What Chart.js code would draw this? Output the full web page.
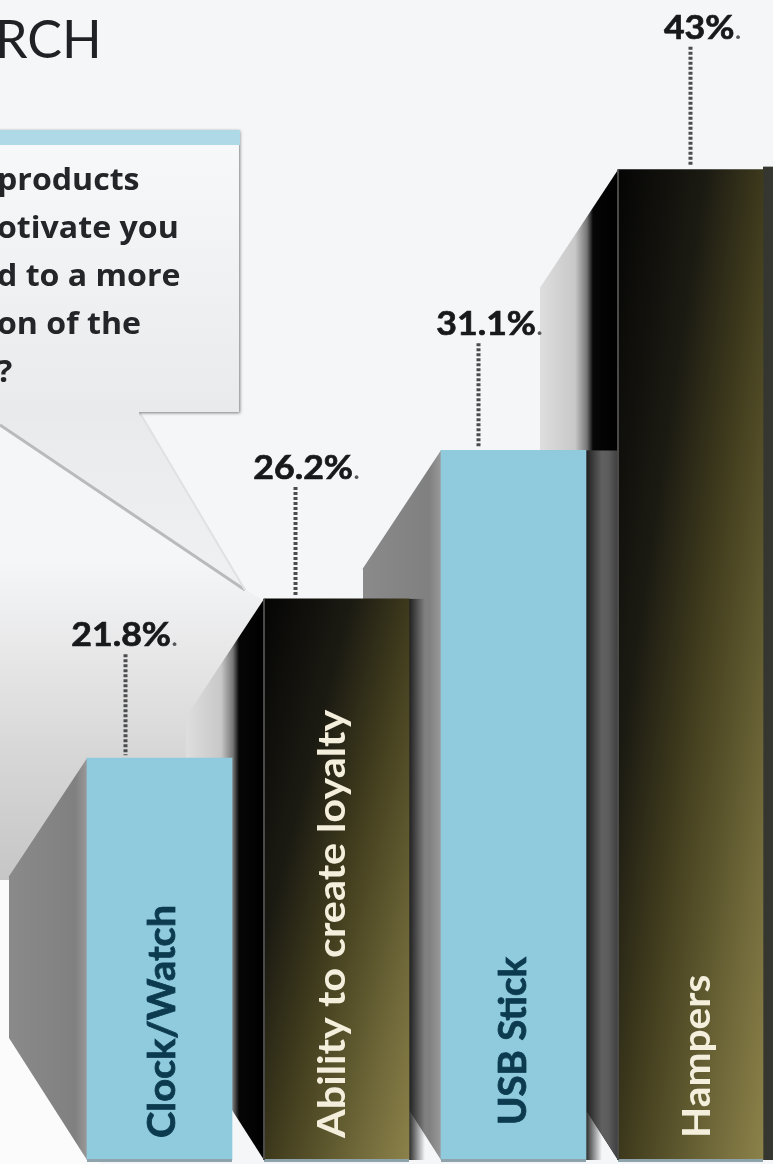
<!DOCTYPE html>
<html>
<head>
<meta charset="utf-8">
<title>Research</title>
<script src="https://cdn.jsdelivr.net/npm/chart.js@4"></script>
<style>
  html, body { margin: 0; padding: 0; width: 773px; height: 1164px; overflow: hidden; background: #f5f6f8; }
  canvas { display: block; }
</style>
</head>
<body>
<canvas id="chart" width="800" height="1164"></canvas>
<script>
const categories = ["Clock/Watch", "Ability to create loyalty", "USB Stick", "Hampers"];
const percents = [21.8, 26.2, 31.1, 43];

const titleText = "RCH";
const questionLines = ["products", "otivate you", "d to a more", "on of the", "?"];

const FONT = "Lato, 'Open Sans', sans-serif";
const BG = "#f5f6f8";
const BLUE = "#90cbdd";

// per-bar tweaks for the leader lines and text around the bars
const leaderShift = [-34, -41, -35, 0];
const labelShift = [0, 12, 12, 13];
const labelRise = [125, 133, 128, 144];
const nameBottom = [1138, 1138, 1125, 1138];
const nameShift = [3, -4, 0, 7];
const nameStretch = [1.045, 1.09, 1.01, 1.07];

const FACE_W = 78;
const FACE_TOP = 118;
const FACE_BOTTOM = 122;

function isDark(i) {
  return i % 2 === 1;
}

// dark bars run black to olive along the box diagonal
function darkGradient(ctx, x0, y0, x1, y1) {
  const w = x1 - x0, h = y1 - y0;
  const len = Math.hypot(w, h);
  const d = (2 * w * h) / len;
  const g = ctx.createLinearGradient(x0, y0, x0 + (h / len) * d, y0 + (w / len) * d);
  g.addColorStop(0, "#050505");
  g.addColorStop(0.3, "#1b1a12");
  g.addColorStop(0.55, "#45401f");
  g.addColorStop(0.8, "#6d6638");
  g.addColorStop(1, "#8b8149");
  return g;
}

const backdrop = {
  id: "backdrop",
  beforeDraw(chart) {
    const ctx = chart.ctx;
    ctx.save();
    ctx.fillStyle = BG;
    ctx.fillRect(0, 0, chart.width, chart.height);

    // pale lower left corner
    ctx.fillStyle = "#fbfbfb";
    ctx.fillRect(0, 880, 100, 284);

    // grey wash that runs down behind the first bar
    const wash = ctx.createLinearGradient(0, 560, 0, 880);
    wash.addColorStop(0, BG);
    wash.addColorStop(0.28, "#e8e8e9");
    wash.addColorStop(0.6, "#d7d7d8");
    wash.addColorStop(1, "#c6c6c7");
    ctx.fillStyle = wash;
    ctx.beginPath();
    ctx.moveTo(0, 560);
    ctx.lineTo(200, 560);
    ctx.lineTo(262, 600);
    ctx.lineTo(262, 880);
    ctx.lineTo(0, 880);
    ctx.closePath();
    ctx.fill();

    // callout tail
    const tail = ctx.createLinearGradient(0, 413, 0, 590);
    tail.addColorStop(0, "#e9eaec");
    tail.addColorStop(1, "#f0f1f3");
    ctx.fillStyle = tail;
    ctx.beginPath();
    ctx.moveTo(0, 413);
    ctx.lineTo(140, 413);
    ctx.lineTo(245, 590);
    ctx.lineTo(0, 425);
    ctx.closePath();
    ctx.fill();
    ctx.strokeStyle = "#b9babc";
    ctx.lineWidth = 3;
    ctx.beginPath();
    ctx.moveTo(0, 425);
    ctx.lineTo(245, 590);
    ctx.stroke();
    ctx.strokeStyle = "#e0e1e3";
    ctx.lineWidth = 2;
    ctx.beginPath();
    ctx.moveTo(140, 413);
    ctx.lineTo(245, 590);
    ctx.stroke();

    // callout box, with a soft shadow on its right and lower edges
    const box = ctx.createLinearGradient(0, 130, 0, 413);
    box.addColorStop(0, "#f8f9fb");
    box.addColorStop(1, "#e9eaec");
    ctx.save();
    ctx.shadowColor = "rgba(0,0,0,0.5)";
    ctx.shadowBlur = 3;
    ctx.shadowOffsetX = 1;
    ctx.shadowOffsetY = 1;
    ctx.fillStyle = box;
    ctx.fillRect(-10, 130, 249, 282);
    ctx.restore();
    ctx.fillStyle = "#e9eaec";
    ctx.fillRect(0, 408, 139, 8);
    ctx.fillStyle = "#b0d9e8";
    ctx.fillRect(0, 130, 240, 15);

    ctx.fillStyle = "#1f2124";
    ctx.font = "400 52px " + FONT;
    ctx.textAlign = "left";
    ctx.textBaseline = "alphabetic";
    ctx.fillText(titleText, -5, 58);

    ctx.fillStyle = "#232528";
    ctx.font = "700 30px 'Open Sans', sans-serif";
    questionLines.forEach((line, i) => {
      ctx.save();
      ctx.translate(-3, 190 + i * 48);
      ctx.scale(1.07, 1);
      ctx.fillText(line, 0, 0);
      ctx.restore();
    });
    ctx.restore();
  },
  beforeDatasetsDraw(chart) {
    const ctx = chart.ctx;
    const bars = chart.getDatasetMeta(0).data;
    ctx.save();

    // slanted side faces, left of each bar
    bars.forEach((bar, i) => {
      const left = bar.x - bar.width / 2;
      const g = ctx.createLinearGradient(left - FACE_W, 0, left, 0);
      if (isDark(i)) {
        g.addColorStop(0, "#dedede");
        g.addColorStop(0.45, "#c8c8c8");
        g.addColorStop(0.6, "#777");
        g.addColorStop(0.68, "#060606");
        g.addColorStop(1, "#000");
      } else {
        g.addColorStop(0, "#8a8a8a");
        g.addColorStop(0.85, "#808080");
        g.addColorStop(1, "#999");
      }
      ctx.fillStyle = g;
      ctx.beginPath();
      ctx.moveTo(left, bar.y);
      ctx.lineTo(left - FACE_W, bar.y + FACE_TOP);
      ctx.lineTo(left - FACE_W, bar.base - FACE_BOTTOM);
      ctx.lineTo(left, bar.base);
      ctx.closePath();
      ctx.fill();
    });

    // the tall bar's face reads grey once it drops below the third bar
    const third = bars[2], last = bars[3];
    const stripL = third.x + third.width / 2;
    const stripR = last.x - last.width / 2;
    ctx.save();
    ctx.beginPath();
    ctx.moveTo(stripR, third.y);
    ctx.lineTo(stripL, third.y);
    ctx.lineTo(stripL, last.base - 50);
    ctx.lineTo(stripR, last.base);
    ctx.closePath();
    ctx.clip();
    const strip = ctx.createLinearGradient(stripL, 0, stripR, 0);
    strip.addColorStop(0, "#6a6a6a");
    strip.addColorStop(0.7, "#5c5c5c");
    strip.addColorStop(1, "#3e3e40");
    ctx.fillStyle = strip;
    ctx.fillRect(stripL, third.y, stripR - stripL, last.base - third.y);
    ctx.restore();

    // cast shadow to the right of bars 2 and 3
    [1, 2].forEach((i) => {
      const bar = bars[i];
      const right = bar.x + bar.width / 2;
      const s = ctx.createLinearGradient(right, 0, right + 16, 0);
      s.addColorStop(0, "rgba(20,20,20,0.9)");
      s.addColorStop(1, "rgba(20,20,20,0)");
      ctx.fillStyle = s;
      ctx.fillRect(right, bar.y, 16, bar.base - bar.y);
    });

    // sliver of the next column at the right edge
    const right = last.x + last.width / 2;
    ctx.fillStyle = "#34362f";
    ctx.fillRect(right, last.y - 3, 30, last.base - last.y + 3);
    ctx.restore();
  },
  afterDatasetsDraw(chart) {
    const ctx = chart.ctx;
    const bars = chart.getDatasetMeta(0).data;
    ctx.save();
    bars.forEach((bar, i) => {
      const left = bar.x - bar.width / 2;
      // thin foot under the bar
      ctx.fillStyle = "#8fa3ac";
      ctx.fillRect(left, bar.base - 1, bar.width, 3);
      if (isDark(i)) {
        ctx.fillStyle = "#4a4a48";
        ctx.fillRect(left - 1, bar.y, 2, bar.base - bar.y);
      }

      // leader and value
      const cx = bar.x + leaderShift[i];
      const labelY = bar.y - labelRise[i];
      ctx.strokeStyle = "#4b4c4e";
      ctx.lineWidth = 4;
      ctx.setLineDash([3, 2]);
      ctx.beginPath();
      ctx.moveTo(cx, labelY + 21);
      ctx.lineTo(cx, bar.y - 3);
      ctx.stroke();
      ctx.setLineDash([]);

      const text = percents[i] + "%";
      ctx.save();
      ctx.translate(cx + labelShift[i], labelY + 13);
      ctx.scale(1.08, 1);
      ctx.font = "700 33px " + FONT;
      ctx.textBaseline = "alphabetic";
      ctx.textAlign = "left";
      const w = ctx.measureText(text).width;
      const x0 = -(w + 8) / 2;
      ctx.fillStyle = "#17191b";
      ctx.strokeStyle = "#17191b";
      ctx.lineWidth = 0.7;
      ctx.fillText(text, x0, 0);
      ctx.strokeText(text, x0, 0);
      ctx.font = "400 28px " + FONT;
      ctx.fillStyle = "#55575a";
      ctx.fillText(".", x0 + w, 0);
      ctx.restore();

      // category name, reading upwards inside the bar
      ctx.save();
      ctx.translate(bar.x + nameShift[i], nameBottom[i]);
      ctx.rotate(-Math.PI / 2);
      ctx.scale(nameStretch[i], 1);
      ctx.textAlign = "left";
      ctx.textBaseline = "middle";
      ctx.font = "700 38px " + FONT;
      ctx.fillStyle = isDark(i) ? "#f4efdc" : "#0c3a4e";
      ctx.strokeStyle = ctx.fillStyle;
      ctx.lineWidth = 0.8;
      ctx.fillText(categories[i], 0, 0);
      if (!isDark(i)) ctx.strokeText(categories[i], 0, 0);
      ctx.restore();
    });
    ctx.restore();
  },
};

new Chart(document.getElementById("chart"), {
  type: "bar",
  data: {
    labels: categories,
    datasets: [
      {
        data: percents,
        barThickness: 145,
        backgroundColor(c) {
          const i = c.dataIndex;
          const { x, y } = c.chart.scales;
          if (!x || !y || !isDark(i)) return BLUE;
          const cx = x.getPixelForValue(i);
          return darkGradient(c.chart.ctx, cx - 72, y.getPixelForValue(percents[i]), cx + 72, y.bottom);
        },
      },
    ],
  },
  options: {
    responsive: false,
    animation: false,
    layout: { padding: { left: 71, right: 21, top: 0, bottom: 4 } },
    plugins: { legend: { display: false }, tooltip: { enabled: false } },
    scales: {
      x: { display: false },
      y: { type: "logarithmic", display: false, min: 13.71, max: 52.3 },
    },
  },
  plugins: [backdrop],
});
</script>
</body>
</html>
